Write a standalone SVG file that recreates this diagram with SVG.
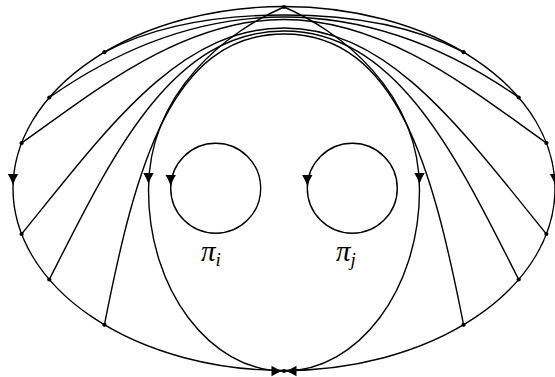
<svg xmlns="http://www.w3.org/2000/svg" width="555" height="377" viewBox="0 0 555 377">
<style>
.ln{fill:none;stroke:#000;stroke-width:1.4}
.dot{fill:#000}
.lbl{font-family:"Liberation Serif","DejaVu Serif",serif;font-style:italic;font-size:29px;fill:#000}
.sub{font-size:19px}
</style>
<defs>
<path id="ah" d="M0,0 Q-6,-2 -11,-5.2 L-11,5.2 Q-6,2 0,0 Z" fill="#000"/>
</defs>
<rect width="555" height="377" fill="#fff"/>
<g id="connectors">
<ellipse class="ln" cx="284" cy="188.5" rx="271" ry="182"/>
<path class="ln" d="M284,7 C230,30 148.5,90 148.5,190 C148.5,290 210,371 284,371 C358,371 419.5,290 419.5,190 C419.5,90 338,30 284,7 Z"/>
<path class="ln" d="M104.4,52.2 C150,28 210,15 284,15 C358,15 418,28 463.6,52.2"/>
<path class="ln" d="M49.3,97.5 C110,55 190,17 284,17 C378,17 458,55 518.7,97.5"/>
<path class="ln" d="M21.6,143 C90,95 180,19.5 284,19.5 C388,19.5 478,95 546.4,143"/>
<path class="ln" d="M21.6,234 C110,125 180,28 284,28 C388,28 458,125 546.4,234"/>
<path class="ln" d="M49.3,279.5 C110,160 170,31 284,31 C398,31 458,160 518.7,279.5"/>
<path class="ln" d="M104.4,324.8 C135,170 170,34 284,34 C398,34 433,170 463.6,324.8"/>
<use href="#ah" transform="translate(13,185) rotate(90)"/>
<use href="#ah" transform="translate(555,185) rotate(90)"/>
<use href="#ah" transform="translate(148.5,184) rotate(90)"/>
<use href="#ah" transform="translate(419.5,184) rotate(90)"/>
<use href="#ah" transform="translate(282.5,371) rotate(0)"/>
<use href="#ah" transform="translate(285.5,371) rotate(180)"/>
</g>
<g id="top-point"><circle class="dot" cx="284" cy="7" r="2.1"/></g>
<g id="bottom-point"><circle class="dot" cx="284" cy="371" r="2.1"/></g>
<g id="p-l1"><circle class="dot" cx="104.4" cy="52.2" r="2.1"/></g>
<g id="p-l2"><circle class="dot" cx="49.3" cy="97.5" r="2.1"/></g>
<g id="p-l3"><circle class="dot" cx="21.6" cy="143" r="2.1"/></g>
<g id="p-l4"><circle class="dot" cx="21.6" cy="234" r="2.1"/></g>
<g id="p-l5"><circle class="dot" cx="49.3" cy="279.5" r="2.1"/></g>
<g id="p-l6"><circle class="dot" cx="104.4" cy="324.8" r="2.1"/></g>
<g id="p-r1"><circle class="dot" cx="463.6" cy="52.2" r="2.1"/></g>
<g id="p-r2"><circle class="dot" cx="518.7" cy="97.5" r="2.1"/></g>
<g id="p-r3"><circle class="dot" cx="546.4" cy="143" r="2.1"/></g>
<g id="p-r4"><circle class="dot" cx="546.4" cy="234" r="2.1"/></g>
<g id="p-r5"><circle class="dot" cx="518.7" cy="279.5" r="2.1"/></g>
<g id="p-r6"><circle class="dot" cx="463.6" cy="324.8" r="2.1"/></g>
<g id="pi-i">
<circle class="ln" cx="215.7" cy="188.3" r="45"/>
<use href="#ah" transform="translate(170.7,186) rotate(90)"/>
<text class="lbl" x="201" y="261">π<tspan class="sub" dy="5">i</tspan></text>
</g>
<g id="pi-j">
<circle class="ln" cx="352.3" cy="188.3" r="45"/>
<use href="#ah" transform="translate(307.3,186) rotate(90)"/>
<text class="lbl" x="336" y="261">π<tspan class="sub" dy="5">j</tspan></text>
</g>
</svg>
